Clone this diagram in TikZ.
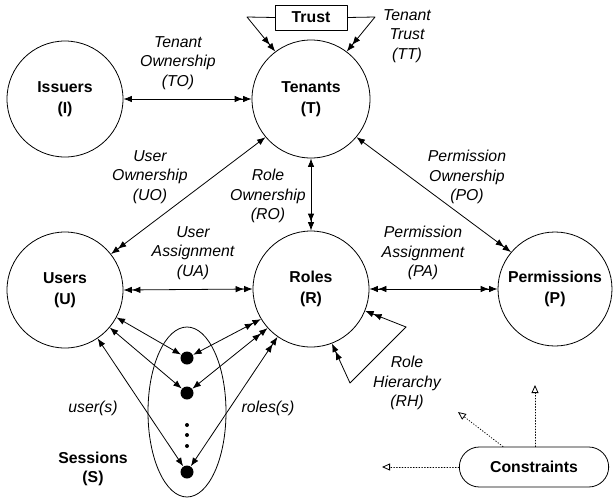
\documentclass[tikz,border=0pt]{standalone}
\usepackage{fontspec}
\setmainfont{Liberation Sans}
\usetikzlibrary{arrows.meta,shapes.geometric,shapes.misc}
\begin{document}
\begin{tikzpicture}[x=1pt,y=-1pt,line width=.8pt,>={Latex[length=8.5pt,width=6.5pt]},
 line cap=round,line join=round,font=\fontsize{15.8}{19.5}\selectfont,
 set/.style={draw,circle,minimum size=116pt,inner sep=0pt,align=center,
  font=\fontsize{15.8}{21}\selectfont\bfseries},
 rel/.style={align=center,font=\fontsize{15.8}{19.5}\selectfont\itshape},
 bold/.style={font=\fontsize{15.8}{19.5}\selectfont\bfseries},
 sess/.style={circle,fill,minimum size=13pt,inner sep=0pt},
 con/.style={dotted,-{Triangle[open,length=8pt,width=7pt]}}]
\useasboundingbox (0,0) rectangle (613,498);
% sets
\node[set] (I) at (65,99) {Issuers\\(I)};
\node[set,minimum size=118pt] (T) at (311,99) {Tenants\\(T)};
\node[set] (U) at (65,290) {Users\\(U)};
\node[set] (R) at (311,289) {Roles\\(R)};
\node[set,minimum size=114pt] (P) at (555,289) {Permissions\\(P)};
\node[draw,bold,minimum width=72pt,minimum height=25pt,inner sep=0pt]
 (trust) at (311,17.5) {Trust};
\node[draw,ellipse,minimum width=78pt,minimum height=170pt] (S) at (187,412) {};
\node[draw,bold,rounded rectangle,minimum width=156pt,minimum height=40pt]
 (C) at (534,467) {Constraints};
\node[bold,align=center] (sl) at (93,469) {Sessions\\(S)};
% sessions
\foreach \n/\y in {1/358,2/393,3/472}{\node[sess] (s\n) at (187,\y) {};}
\foreach \y in {425,435,446}{\fill (187,\y) circle[radius=2pt];}
% relations
\draw[<->>] (I.east) -- (T.west);
\draw[<->>] (T.220) -- (U.38);
\draw[<->>] (T.south) -- (R.north);
\draw[<->>] (T.320) -- (P.140);
\draw[<<->>] (U.east) -- (R.west);
\draw[<<->>] (R.east) -- (P.west);
\foreach \n/\a in {1/332,2/320,3/304}{\draw[<->] (U.\a) -- (s\n);}
\foreach \n/\a in {1/211,2/222,3/235}{\draw[<<->] (R.\a) -- (s\n);}
% trust
\coordinate (tl) at (247,17);
\coordinate (tr) at (375,17);
\draw[->>] (trust.west) -- (tl) -- (T.127);
\draw[->>] (trust.east) -- (tr) -- (T.53);
% role hierarchy
\coordinate (rh) at (406,327);
\coordinate (rh2) at (350,383);
\draw[->>] (rh) -- (R.338);
\draw[->>] (rh) -- (rh2) -- (R.291);
% constraints
\coordinate (c1) at (382,467);
\coordinate (c2) at (458,412);
\coordinate (c3) at (535,385);
\draw[con] (C.west) -- (c1);
\draw[con] ([xshift=-31pt]C.north) -- (c2);
\draw[con] ([xshift=1pt]C.north) -- (c3);
% labels
\node[rel] (to) at (178,63) {Tenant\\Ownership\\(TO)};
\node[rel] (tt) at (407,36) {Tenant\\Trust\\(TT)};
\node[rel] (uo) at (150,177) {User\\Ownership\\(UO)};
\node[rel] (ro) at (268,196) {Role\\Ownership\\(RO)};
\node[rel] (po) at (467,177) {Permission\\Ownership\\(PO)};
\node[rel] (ua) at (193,253) {User\\Assignment\\(UA)};
\node[rel] (pa) at (423,253) {Permission\\Assignment\\(PA)};
\node[rel] (rhl) at (407,383) {Role\\Hierarchy\\(RH)};
\node[rel] (us) at (93,408) {user(s)};
\node[rel] (rs) at (268,408) {roles(s)};
\end{tikzpicture}
\end{document}
